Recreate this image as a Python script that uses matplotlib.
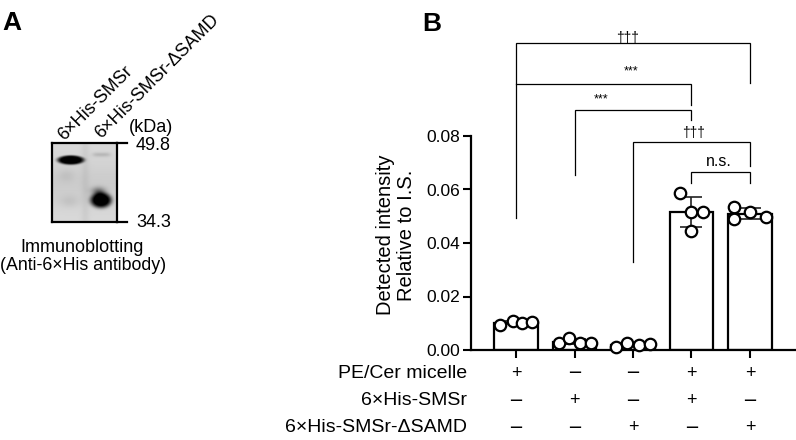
import numpy as np
import matplotlib
matplotlib.use("Agg")
from matplotlib import pyplot as plt

plt.rcParams['font.family'] = ['Liberation Sans', 'DejaVu Sans']

# panel B data: 4 replicates per condition
conditions = ['c1', 'c2', 'c3', 'c4', 'c5']
points = [
    [0.0093, 0.0110, 0.0102, 0.0106],
    [0.0025, 0.0044, 0.0027, 0.0027],
    [0.0012, 0.0025, 0.0019, 0.0021],
    [0.0517, 0.0586, 0.0517, 0.0445],
    [0.0536, 0.0489, 0.0517, 0.0498],
]
jitter = [
    [-0.27, -0.05, 0.10, 0.27],
    [-0.27, -0.09, 0.10, 0.29],
    [-0.29, -0.10, 0.10, 0.29],
    [0.0, -0.19, 0.19, 0.0],
    [-0.27, -0.27, 0.0, 0.28],
]
row_labels = ['PE/Cer micelle', '6×His-SMSr', '6×His-SMSr-ΔSAMD']
row_signs = [
    ['+', '−', '−', '+', '+'],
    ['−', '+', '−', '+', '−'],
    ['−', '−', '+', '−', '+'],
]
yticks = [0.00, 0.02, 0.04, 0.06, 0.08]

# significance brackets: (x1, x2, y, left leg bottom, right leg bottom)
brackets = [
    (0, 4, 0.1147, 0.0493, 0.0998),
    (0, 3, 0.0993, 0.0993, 0.0916),
    (1, 3, 0.0897, 0.0654, 0.0860),
    (2, 4, 0.0779, 0.0330, 0.0688),
    (3, 4, 0.0667, 0.0625, 0.0625),
]
sig_labels = [
    ('†††', 1.91, 0.1165, 10),
    ('***', 1.97, 0.1043, 9),
    ('***', 1.45, 0.0935, 9),
    ('†††', 3.03, 0.0811, 10),
    ('n.s.', 3.47, 0.0705, 11.5),
]

W, H = 796, 440


def fx(x):
    return x / W


def fy(y):
    return 1 - y / H


fig = plt.figure(figsize=(W / 100, H / 100), dpi=100)

# ---------------- panel A ----------------
fig.text(fx(12), fy(23), 'A', fontsize=19, fontweight='bold', ha='center', va='center')
fig.text(fx(432), fy(24), 'B', fontsize=19, fontweight='bold', ha='center', va='center')

# blot image
bx0, by0, bx1, by1 = 51.7, 143.3, 116.7, 222.3
axb = fig.add_axes([fx(bx0), fy(by1), (bx1 - bx0) / W, (by1 - by0) / H])
hh, ww = 79, 65
yy, xx = np.mgrid[0:hh, 0:ww]
img = np.full((hh, ww), 0.85)
img -= 0.05 * np.exp(-((yy - 40) / 22.0) ** 2)
img -= 0.04 * np.exp(-((xx - 33) / 4.0) ** 2)
# lane 1 band
img -= 0.95 * np.exp(-(((yy - 17.3) / 4.6) ** 2 + ((xx - 18.3) / 13.5) ** 2) ** 3)
# lane 2 faint band
img -= 0.12 * np.exp(-((yy - 12) / 2.2) ** 2) * np.exp(-((xx - 49) / 9) ** 4)
# lane 2 main band
img -= 1.0 * np.exp(-(((yy - 57) / 7.5) ** 2 + ((xx - 48.5) / 10.5) ** 2) ** 2)
img -= 0.35 * np.exp(-(((yy - 48) / 4.0) ** 2 + ((xx - 46) / 7) ** 2))
# faint smear
img -= 0.06 * np.exp(-((yy - 58) / 6.0) ** 2) * np.exp(-((xx - 17) / 10) ** 2)
img -= 0.05 * np.exp(-((yy - 33) / 6.0) ** 2) * np.exp(-((xx - 14) / 8) ** 2)
img = np.clip(img, 0, 1)
axb.imshow(img, cmap='gray', vmin=0, vmax=1, aspect='auto', interpolation='bilinear')
axb.set_xticks([])
axb.set_yticks([])
for s in axb.spines.values():
    s.set_linewidth(1.6)

for ty in [143.3, 222.3]:
    fig.add_artist(plt.Line2D([fx(116.7), fx(127)], [fy(ty), fy(ty)], color='black', lw=1.6))
fig.text(fx(136), fy(146), '49.8', fontsize=13, ha='left', va='center')
fig.text(fx(136), fy(222), '34.3', fontsize=13, ha='left', va='center')
fig.text(fx(151), fy(127), '(kDa)', fontsize=13, ha='center', va='center')
fig.text(fx(64), fy(141), '6×His-SMSr', fontsize=13, rotation=45,
         rotation_mode='anchor', ha='left', va='baseline')
fig.text(fx(101), fy(139), '6×His-SMSr-ΔSAMD', fontsize=13, rotation=45,
         rotation_mode='anchor', ha='left', va='baseline')
fig.text(fx(82), fy(247), 'Immunoblotting', fontsize=13, ha='center', va='center')
fig.text(fx(83), fy(265), '(Anti-6×His antibody)', fontsize=12.8, ha='center', va='center')

# ---------------- panel B ----------------
ax = fig.add_axes([fx(471), fy(350), (795 - 471) / W, (350 - 136) / H])
xs = np.arange(len(conditions))
means = [np.mean(p) for p in points]
sds = [np.std(p, ddof=1) for p in points]

ax.bar(xs, means, width=0.75, color='white', edgecolor='black', linewidth=1.6, zorder=2)
ax.errorbar(xs, means, yerr=sds, fmt='none', ecolor='#222222', elinewidth=1.2,
            capsize=8, capthick=1.2, zorder=3)
for i in range(len(conditions)):
    ax.scatter(xs[i] + np.array(jitter[i]), points[i], s=68, facecolor='white',
               edgecolor='black', linewidth=1.6, zorder=4, clip_on=False)

ax.set_xlim(-0.77, 4.77)
ax.set_ylim(0, 0.08)
ax.set_yticks(yticks)
ax.set_yticklabels(['%.2f' % v for v in yticks], fontsize=12.5)
ax.set_xticks(xs)
ax.set_xticklabels([])
ax.tick_params(axis='y', direction='out', length=6, width=1.5, pad=2)
ax.tick_params(axis='x', direction='out', length=6, width=1.5)
for s in ['top', 'right']:
    ax.spines[s].set_visible(False)
for s in ['left', 'bottom']:
    ax.spines[s].set_linewidth(1.6)

fig.text(fx(396), fy(235), 'Detected intensity\nRelative to I.S.', fontsize=14.5,
         rotation=90, ha='center', va='center', multialignment='center', linespacing=1.15)

# brackets
for x1, x2, y, lb, rb in brackets:
    ax.plot([x1, x1, x2, x2], [lb, y, y, rb], color='black', lw=0.9, clip_on=False,
            solid_joinstyle='miter')
for txt, x, y, fs in sig_labels:
    ax.text(x, y, txt, fontsize=fs, ha='center', va='center')

# condition table
row_y = [-0.108, -0.238, -0.364]
tr = ax.get_xaxis_transform()
for r in range(len(row_labels)):
    fig.text(fx(467), fy(350 - 214 * row_y[r]), row_labels[r], fontsize=14,
             ha='right', va='center')
    for i in range(len(conditions)):
        sign = row_signs[r][i]
        fam = 'DejaVu Sans' if sign == '−' else 'Liberation Sans'
        ax.text(xs[i], row_y[r], sign, fontsize=13, family=fam, ha='center',
                va='center', transform=tr)

fig.savefig('out.png', dpi=100)
